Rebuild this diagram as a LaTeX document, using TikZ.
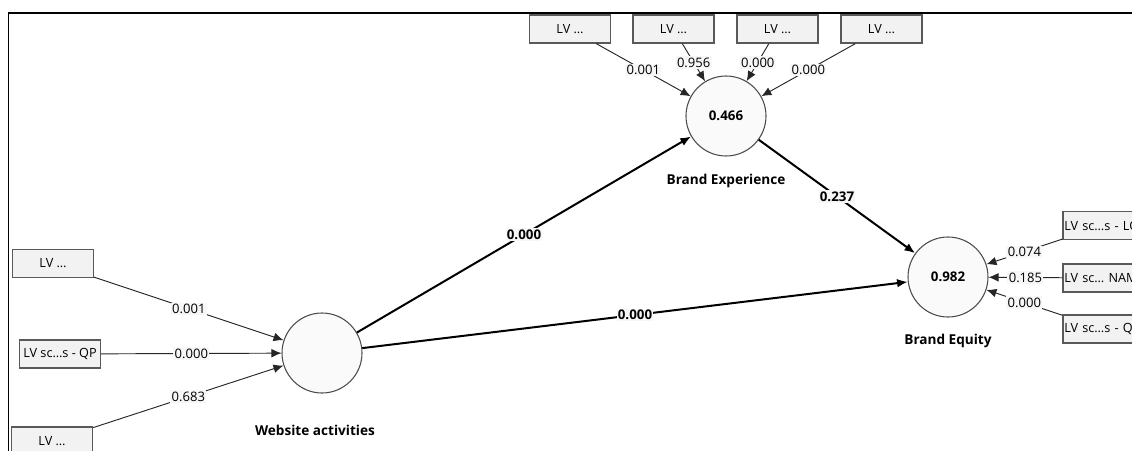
\documentclass[tikz,border=0pt]{standalone}
\usepackage{fontspec}
\setmainfont{Open Sans}
\usetikzlibrary{arrows.meta}

\begin{document}
\begin{tikzpicture}[x=0.75pt,y=-0.75pt,
	latent/.style={circle,draw=black!70,fill=black!2,line width=0.8pt,minimum size=60pt,inner sep=0pt,font=\bfseries\fontsize{10}{12}\selectfont},
	indicator/.style={rectangle,draw=black!65,fill=black!5,line width=0.9pt,minimum width=60.75pt,minimum height=21pt,inner sep=1pt,font=\fontsize{9.5}{11}\selectfont},
	outer/.style={indicator,text width=58.75pt,align=left},
	inner path/.style={line width=1.5pt,-{Latex[length=8pt,width=6.5pt]}},
	loading/.style={line width=0.7pt,black!85,-{Latex[length=7.5pt,width=6.5pt]}},
	coef/.style={fill=black!3,inner sep=1pt,text=black,font=\fontsize{9.8}{11}\selectfont},
	bold coef/.style={coef,font=\bfseries\fontsize{10}{12}\selectfont},
	caption/.style={font=\bfseries\fontsize{10.2}{12}\selectfont}]

    \useasboundingbox (0,0) rectangle (1132,450);
    \clip (0,0) rectangle (1132,450);
    \draw [line width=1.3pt] (8.5,470) -- (8.5,13) -- (1150,13);

    % constructs
    \node[latent] (wa) at (322,353) {};
    \node[latent] (bx) at (726,116) {0.466};
    \node[latent] (beq) at (948,277) {0.982};
    \node[caption] (wacap) at (315,430) {Website activities};
    \node[caption] (bxcap) at (726,181) {Brand Experience};
    \node[caption] (beqcap) at (948,341) {Brand Equity};

    % indicators of Brand Experience
    \node[indicator] (bx1) at (570,29) {LV …};
    \node[indicator] (bx2) at (673.5,29) {LV …};
    \node[indicator] (bx3) at (777.5,29) {LV …};
    \node[indicator] (bx4) at (881.5,29) {LV …};

    % indicators of Website activities
    \node[indicator] (wa1) at (53,263.5) {LV …};
    \node[indicator] (wa2) at (60,354) {LV sc…s - QP};
    \node[indicator] (wa3) at (52,441) {LV …};

    % indicators of Brand Equity
    \node[outer] (beq1) at (1103.5,225.5) {\mbox{LV sc…s - LOY}};
    \node[outer] (beq2) at (1103.5,278) {\mbox{LV sc… NAME}};
    \node[outer] (beq3) at (1103.5,329) {\mbox{LV sc…s - QP}};

    \draw[loading] (bx1) -- node[coef] {0.001} (bx);
    \draw[loading] (bx2) -- node[coef] {0.956} (bx);
    \draw[loading] (bx3) -- node[coef] {0.000} (bx);
    \draw[loading] (bx4) -- node[coef] {0.000} (bx);

    \draw[loading] (wa1) -- node[coef] {0.001} (wa);
    \draw[loading] (wa2) -- node[coef] {0.000} (wa);
    \draw[loading] (wa3) -- node[coef] {0.683} (wa);

    \draw[loading] (beq1) -- node[coef] {0.074} (beq);
    \draw[loading] (beq2) -- node[coef] {0.185} (beq);
    \draw[loading] (beq3) -- node[coef] {0.000} (beq);

    \draw[inner path] (wa) -- node[bold coef] {0.000} (bx);
    \draw[inner path] (wa) -- node[bold coef] {0.000} (beq);
    \draw[inner path] (bx) -- node[bold coef] {0.237} (beq);

\end{tikzpicture}
\end{document}
